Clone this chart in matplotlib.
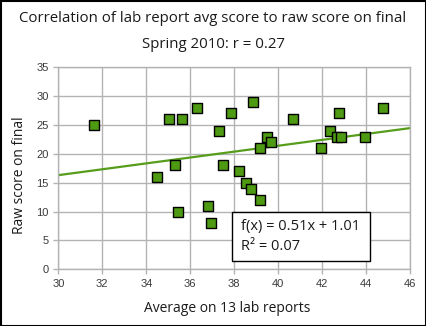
import matplotlib
matplotlib.use("Agg")
import matplotlib.pyplot as plt
from matplotlib.patches import Rectangle

# Lab report average vs. raw score on the final exam
lab_avg = [31.62, 35.03, 35.61, 36.30, 37.30, 37.85, 35.32, 34.47, 37.47, 38.23,
           38.85, 40.68, 42.77, 44.77, 39.50, 39.68, 39.18, 42.35, 42.68, 42.83,
           43.94, 41.93, 38.52, 38.76, 39.18, 35.44, 36.82, 36.94]
final_raw = [25, 26, 26, 28, 24, 27, 18, 16, 18, 17,
             29, 26, 27, 28, 23, 22, 21, 24, 23, 23,
             23, 21, 15, 14, 12, 10, 11, 8]

# Linear trend line as reported in the fit box
slope = 0.51
intercept = 1.01
r_squared = 0.07
r_value = 0.27

x_ticks = [30, 32, 34, 36, 38, 40, 42, 44, 46]
y_ticks = [0, 5, 10, 15, 20, 25, 30, 35]

text_font = ["Open Sans", "DejaVu Sans"]
tick_font = ["Liberation Sans", "DejaVu Sans"]
text_color = "#1a1a1a"
grid_color = "#b3b3b3"
green = "#579d1c"

fig = plt.figure(figsize=(4.26, 3.26), dpi=100)
fig.patch.set_facecolor("white")
ax = fig.add_axes([58.3 / 426, 1 - 269.3 / 326, 352 / 426, 202 / 326])

ax.set_xlim(x_ticks[0], x_ticks[-1])
ax.set_ylim(y_ticks[0], y_ticks[-1])
ax.set_xticks(x_ticks)
ax.set_yticks(y_ticks)
ax.grid(True, color=grid_color, linewidth=1.0)
ax.set_axisbelow(True)
for s in ax.spines.values():
    s.set_color(grid_color)
    s.set_linewidth(1.0)
ax.tick_params(axis="both", colors=grid_color, length=3.5, width=1.0,
               labelcolor="#3a3a3a", labelsize=8)
for lbl in ax.get_xticklabels() + ax.get_yticklabels():
    lbl.set_family(tick_font)

# trend line
xs = [x_ticks[0], x_ticks[-1]]
ax.plot(xs, [slope * v + intercept for v in xs], color=green, linewidth=1.6,
        zorder=2)

# data points
ax.scatter(lab_avg, final_raw, marker="s", s=54, facecolor="#4e9a13",
           edgecolor="black", linewidth=1.0, zorder=3)

# fit box
ax.add_patch(Rectangle((0.494, 0.0396), 0.391, 0.245, transform=ax.transAxes,
                       facecolor="white", edgecolor="black", linewidth=1.0,
                       zorder=4))
ax.text(0.519, 0.211, f"f(x) = {slope:.2f}x + {intercept:.2f}",
        transform=ax.transAxes, ha="left", va="center", fontsize=10.5,
        family=text_font, color=text_color, zorder=5)
ax.text(0.519, 0.112, f"R² = {r_squared:.2f}",
        transform=ax.transAxes, ha="left", va="center", fontsize=10.5,
        family=text_font, color=text_color, zorder=5)

fig.text(0.5, 1 - 19 / 326, "Correlation of lab report avg score to raw score on final",
         ha="center", va="center", fontsize=10.8, family=text_font,
         color=text_color)
fig.text(0.5, 1 - 44 / 326, f"Spring 2010: r = {r_value:.2f}",
         ha="center", va="center", fontsize=10.8, family=text_font,
         color=text_color)
fig.text(227 / 426, 1 - 308 / 326, "Average on 13 lab reports",
         ha="center", va="center", fontsize=10, family=text_font,
         color=text_color)
fig.text(20 / 426, 1 - 175 / 326, "Raw score on final", rotation=90,
         ha="center", va="center", fontsize=10, family=text_font,
         color=text_color)

# outer frame
fig.add_artist(Rectangle((0.5 / 426, 0.5 / 326), 425 / 426, 325 / 326,
                         transform=fig.transFigure, fill=False,
                         edgecolor="black", linewidth=1.5))

fig.savefig("out.png", dpi=100)
